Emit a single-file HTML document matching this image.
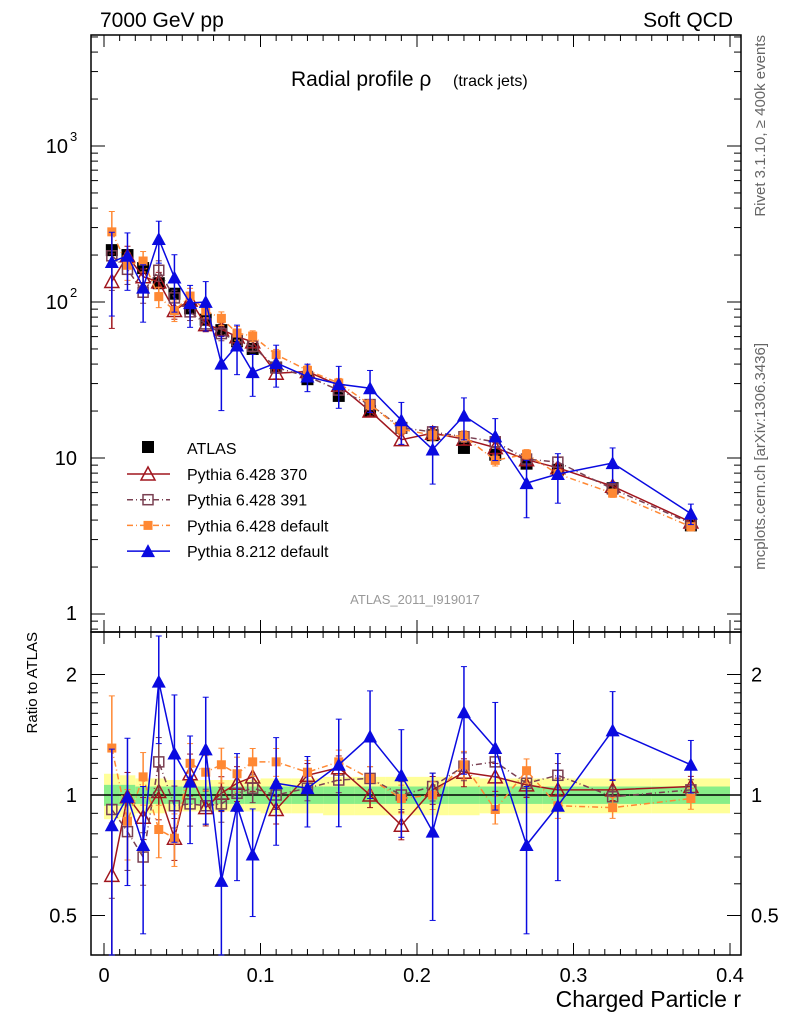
<!DOCTYPE html>
<html><head><meta charset="utf-8"><style>
body{margin:0;background:#fff;}
svg{display:block;font-family:"Liberation Sans",sans-serif;}
</style></head><body>
<svg id="c" width="786" height="1024"></svg>
<script>
const xs=[0.005,0.015,0.025,0.035,0.045,0.055,0.065,0.075,0.085,0.095,0.11,0.13,0.15,0.17,0.19,0.21,0.23,0.25,0.27,0.29,0.325,0.375];
const atlas=[215,200,165,132,113,91,77,66,56,50,38,32,25,20,15.6,14.0,11.6,10.5,9.2,8.4,6.4,3.7];
const r370=[0.63,0.99,0.88,1.02,0.78,1.13,0.93,1.01,1.07,1.11,0.92,1.12,1.17,1.0,0.84,1.03,1.14,1.11,1.06,1.03,1.03,1.05];
const r391=[0.92,0.81,0.70,1.21,0.94,0.95,0.94,0.95,1.01,1.04,1.0,1.04,1.09,1.10,1.0,1.05,1.18,1.21,1.07,1.12,0.99,1.03];
const rdef=[1.31,0.86,1.11,0.82,0.78,1.2,1.14,1.19,1.13,1.21,1.21,1.14,1.21,1.10,0.98,1.0,1.19,0.92,1.15,0.94,0.93,0.98];
const r8=[0.84,0.99,0.75,1.92,1.27,1.08,1.3,0.61,0.94,0.71,1.07,1.04,1.19,1.40,1.12,0.81,1.61,1.31,0.75,0.94,1.45,1.19];
const e370=[0.5,0.15,0.12,0.15,0.12,0.12,0.1,0.1,0.1,0.08,0.08,0.07,0.07,0.07,0.08,0.08,0.08,0.08,0.07,0.07,0.06,0.06];
const e391=[0.4,0.2,0.15,0.15,0.12,0.12,0.1,0.1,0.1,0.08,0.08,0.07,0.07,0.07,0.08,0.08,0.08,0.08,0.07,0.07,0.06,0.06];
const edef=[0.35,0.2,0.15,0.15,0.15,0.12,0.1,0.1,0.1,0.08,0.08,0.07,0.07,0.07,0.08,0.08,0.08,0.08,0.07,0.07,0.06,0.06];
const e8=[0.55,0.4,0.4,0.3,0.4,0.3,0.35,0.5,0.35,0.3,0.3,0.2,0.3,0.3,0.3,0.4,0.3,0.3,0.4,0.35,0.25,0.15];
const bandStat=[0.06,0.06,0.05,0.05,0.05,0.05,0.05,0.05,0.05,0.05,0.05,0.05,0.05,0.05,0.05,0.05,0.05,0.05,0.05,0.05,0.05,0.05];
const bandTot=[0.13,0.12,0.1,0.1,0.09,0.09,0.09,0.09,0.09,0.09,0.1,0.1,0.11,0.11,0.11,0.11,0.11,0.1,0.1,0.1,0.1,0.1];
const xTicks=[0,0.1,0.2,0.3,0.4];
const xEdges=[0,0.01,0.02,0.03,0.04,0.05,0.06,0.07,0.08,0.09,0.1,0.12,0.14,0.16,0.18,0.2,0.22,0.24,0.26,0.28,0.3,0.35,0.4];

const S=document.getElementById('c'),NS='http://www.w3.org/2000/svg';
function el(t,a,p){const e=document.createElementNS(NS,t);for(const k in a)e.setAttribute(k,a[k]);(p||S).appendChild(e);return e;}
function tx(x,y,s,a,name){const e=el('text',Object.assign({x:x,y:y},a));e.textContent=s;return e;}
const X=v=>104+v*1565;
const Y=v=>458-(Math.log10(v)-1)*156;
const R=v=>795-Math.log2(v)*120.5;
const L=91,Rr=741,T=35,M=632,B=955;

// bands
for(let i=0;i<xs.length;i++){
  const a=el('rect',{x:X(xEdges[i]),width:X(xEdges[i+1])-X(xEdges[i]),y:R(1+bandTot[i]),height:R(1-bandTot[i])-R(1+bandTot[i]),fill:'#ffff99'});
  
  const b=el('rect',{x:X(xEdges[i]),width:X(xEdges[i+1])-X(xEdges[i]),y:R(1+bandStat[i]),height:R(1-bandStat[i])-R(1+bandStat[i]),fill:'#88ee88'});
  
}
el('line',{x1:L,x2:Rr,y1:R(1),y2:R(1),stroke:'#000','stroke-width':1.5});

// frames
for(const [t,b,n] of [[T,M,'main-frame'],[M,B,'ratio-frame']]){
  const f=el('rect',{x:L,y:t,width:Rr-L,height:b-t,fill:'none',stroke:'#000','stroke-width':1.5});
  
}
// x ticks
for(let v=0;v<=0.4001;v+=0.01){
  const big=Math.abs(v*10-Math.round(v*10))<1e-6,len=big?12:6;
  for(const [t,b] of [[T,M],[M,B]]){
    el('line',{x1:X(v),x2:X(v),y1:b,y2:b-len,stroke:'#000'});
    el('line',{x1:X(v),x2:X(v),y1:t,y2:t+len,stroke:'#000'});
  }
}
xTicks.forEach(v=>tx(X(v),982,String(v),{'font-size':20,'text-anchor':'middle'},'x-tick-label'));
// log y ticks main
for(let d=-1;d<=3;d++)for(let m=1;m<10;m++){
  const v=m*Math.pow(10,d),y=Y(v);if(y<T||y>M)continue;
  const len=m==1?14:7;
  el('line',{x1:L,x2:L+len,y1:y,y2:y,stroke:'#000'});el('line',{x1:Rr,x2:Rr-len,y1:y,y2:y,stroke:'#000'});
}
tx(77,620,'1',{'font-size':20,'text-anchor':'end'},'y-tick-label');
tx(77,465,'10',{'font-size':20,'text-anchor':'end'},'y-tick-label');
const t2=tx(68,309,'10',{'font-size':20,'text-anchor':'end'},'y-tick-label');
tx(70,297,'2',{'font-size':13},'y-tick-exp');
tx(68,153,'10',{'font-size':20,'text-anchor':'end'},'y-tick-label');
tx(70,141,'3',{'font-size':13},'y-tick-exp');
// ratio ticks
for(const v of [0.5,0.6,0.7,0.8,0.9,1,1.1,1.2,1.3,1.4,1.5,1.6,1.7,1.8,1.9,2]){
  const y=R(v),len=(v==0.5||v==1||v==2)?14:7;
  el('line',{x1:L,x2:L+len,y1:y,y2:y,stroke:'#000'});el('line',{x1:Rr,x2:Rr-len,y1:y,y2:y,stroke:'#000'});
}
for(const [v,s] of [[2,'2'],[1,'1'],[0.5,'0.5']]){
  tx(77,R(v)+7,s,{'font-size':20,'text-anchor':'end'},'ratio-tick-label');
  tx(751,R(v)+7,s,{'font-size':20},'ratio-tick-label-right');
}
// texts
tx(100,27,'7000 GeV pp',{'font-size':21},'energy-label');
tx(733,27,'Soft QCD',{'font-size':21,'text-anchor':'end'},'process-label');
tx(291,86,'Radial profile ρ',{'font-size':21},'plot-title');
tx(453,86,'(track jets)',{'font-size':16},'plot-subtitle');
tx(415,604,'ATLAS_2011_I919017',{'font-size':13,'text-anchor':'middle',fill:'#999'},'analysis-id');
tx(741,1007,'Charged Particle r',{'font-size':23,'text-anchor':'end'},'x-axis-title');
tx(0,0,'Ratio to ATLAS',{'font-size':15,'text-anchor':'end',transform:'translate(37,632) rotate(-90)'},'ratio-axis-title');
tx(0,0,'Rivet 3.1.10, ≥ 400k events',{'font-size':15,'text-anchor':'end',fill:'#666',transform:'translate(765,35) rotate(-90)'},'rivet-label');
tx(0,0,'mcplots.cern.ch [arXiv:1306.3436]',{'font-size':15,'text-anchor':'end',fill:'#666',transform:'translate(765,343) rotate(-90)'},'mcplots-label');

function marker(kind,x,y,col,g){
  if(kind=='sq')el('rect',{x:x-6,y:y-6,width:12,height:12,fill:col},g);
  if(kind=='osq')el('rect',{x:x-5,y:y-5,width:10,height:10,fill:'none',stroke:col,'stroke-width':1.5},g);
  if(kind=='fsq')el('rect',{x:x-4.5,y:y-4.5,width:9,height:9,fill:col},g);
  if(kind=='otri')el('polygon',{points:`${x},${y-7} ${x-7},${y+6} ${x+7},${y+6}`,fill:'none',stroke:col,'stroke-width':1.5},g);
  if(kind=='ftri')el('polygon',{points:`${x},${y-7} ${x-7},${y+6} ${x+7},${y+6}`,fill:col},g);
}
const series=[
 {n:'pythia6-370',r:r370,e:e370,c:'#a0161e',m:'otri',d:''},
 {n:'pythia6-391',r:r391,e:e391,c:'#7a4052',m:'osq',d:'6,3,1,3'},
 {n:'pythia6-default',r:rdef,e:edef,c:'#ff8833',m:'fsq',d:'6,3,1,3'},
 {n:'pythia8-default',r:r8,e:e8,c:'#0a0ae0',m:'ftri',d:''}];
function clipY(y,t,b){return Math.max(t,Math.min(b,y));}
// ATLAS main
const ga=el('g',{});
series.forEach(s=>{
  const g=el('g',{});
  const gr=el('g',{});
  const vals=xs.map((x,i)=>atlas[i]*s.r[i]);
  el('polyline',{points:xs.map((x,i)=>X(x)+','+Y(vals[i])).join(' '),fill:'none',stroke:s.c,'stroke-width':1.5,'stroke-dasharray':s.d},g);
  el('polyline',{points:xs.map((x,i)=>X(x)+','+clipY(R(s.r[i]),M,B)).join(' '),fill:'none',stroke:s.c,'stroke-width':1.5,'stroke-dasharray':s.d},gr);
  xs.forEach((x,i)=>{
    const v=vals[i],e=s.e[i];
    const y1=Y(v*(1+e)),y2=Y(Math.max(v*(1-e),0.5));
    el('line',{x1:X(x),x2:X(x),y1:y1,y2:y2,stroke:s.c,'stroke-width':1.5},g);
    el('line',{x1:X(x)-3,x2:X(x)+3,y1:y1,y2:y1,stroke:s.c},g);el('line',{x1:X(x)-3,x2:X(x)+3,y1:y2,y2:y2,stroke:s.c},g);
    marker(s.m,X(x),Y(v),s.c,g);
    const ry1=clipY(R(s.r[i]*(1+e)),M,B),ry2=clipY(R(Math.max(s.r[i]*(1-e),0.3)),M,B);
    el('line',{x1:X(x),x2:X(x),y1:ry1,y2:ry2,stroke:s.c,'stroke-width':1.5},gr);
    el('line',{x1:X(x)-3,x2:X(x)+3,y1:ry1,y2:ry1,stroke:s.c},gr);el('line',{x1:X(x)-3,x2:X(x)+3,y1:ry2,y2:ry2,stroke:s.c},gr);
    marker(s.m,X(x),R(s.r[i]),s.c,gr);
  });
});
xs.forEach((x,i)=>marker('sq',X(x),Y(atlas[i]),'#000',ga));
// legend
const lg=el('g',{});
marker('sq',148,447,'#000',lg);tx(187,454,'ATLAS',{'font-size':16},'legend-entry');
series.forEach((s,k)=>{
  const y=474+k*25.7;
  el('line',{x1:127,x2:170,y1:y,y2:y,stroke:s.c,'stroke-width':1.5,'stroke-dasharray':s.d},lg);
  marker(s.m,148,y,s.c,lg);
  tx(187,y+6,['Pythia 6.428 370','Pythia 6.428 391','Pythia 6.428 default','Pythia 8.212 default'][k],{'font-size':16},'legend-entry');
});
</script>
</body></html>
